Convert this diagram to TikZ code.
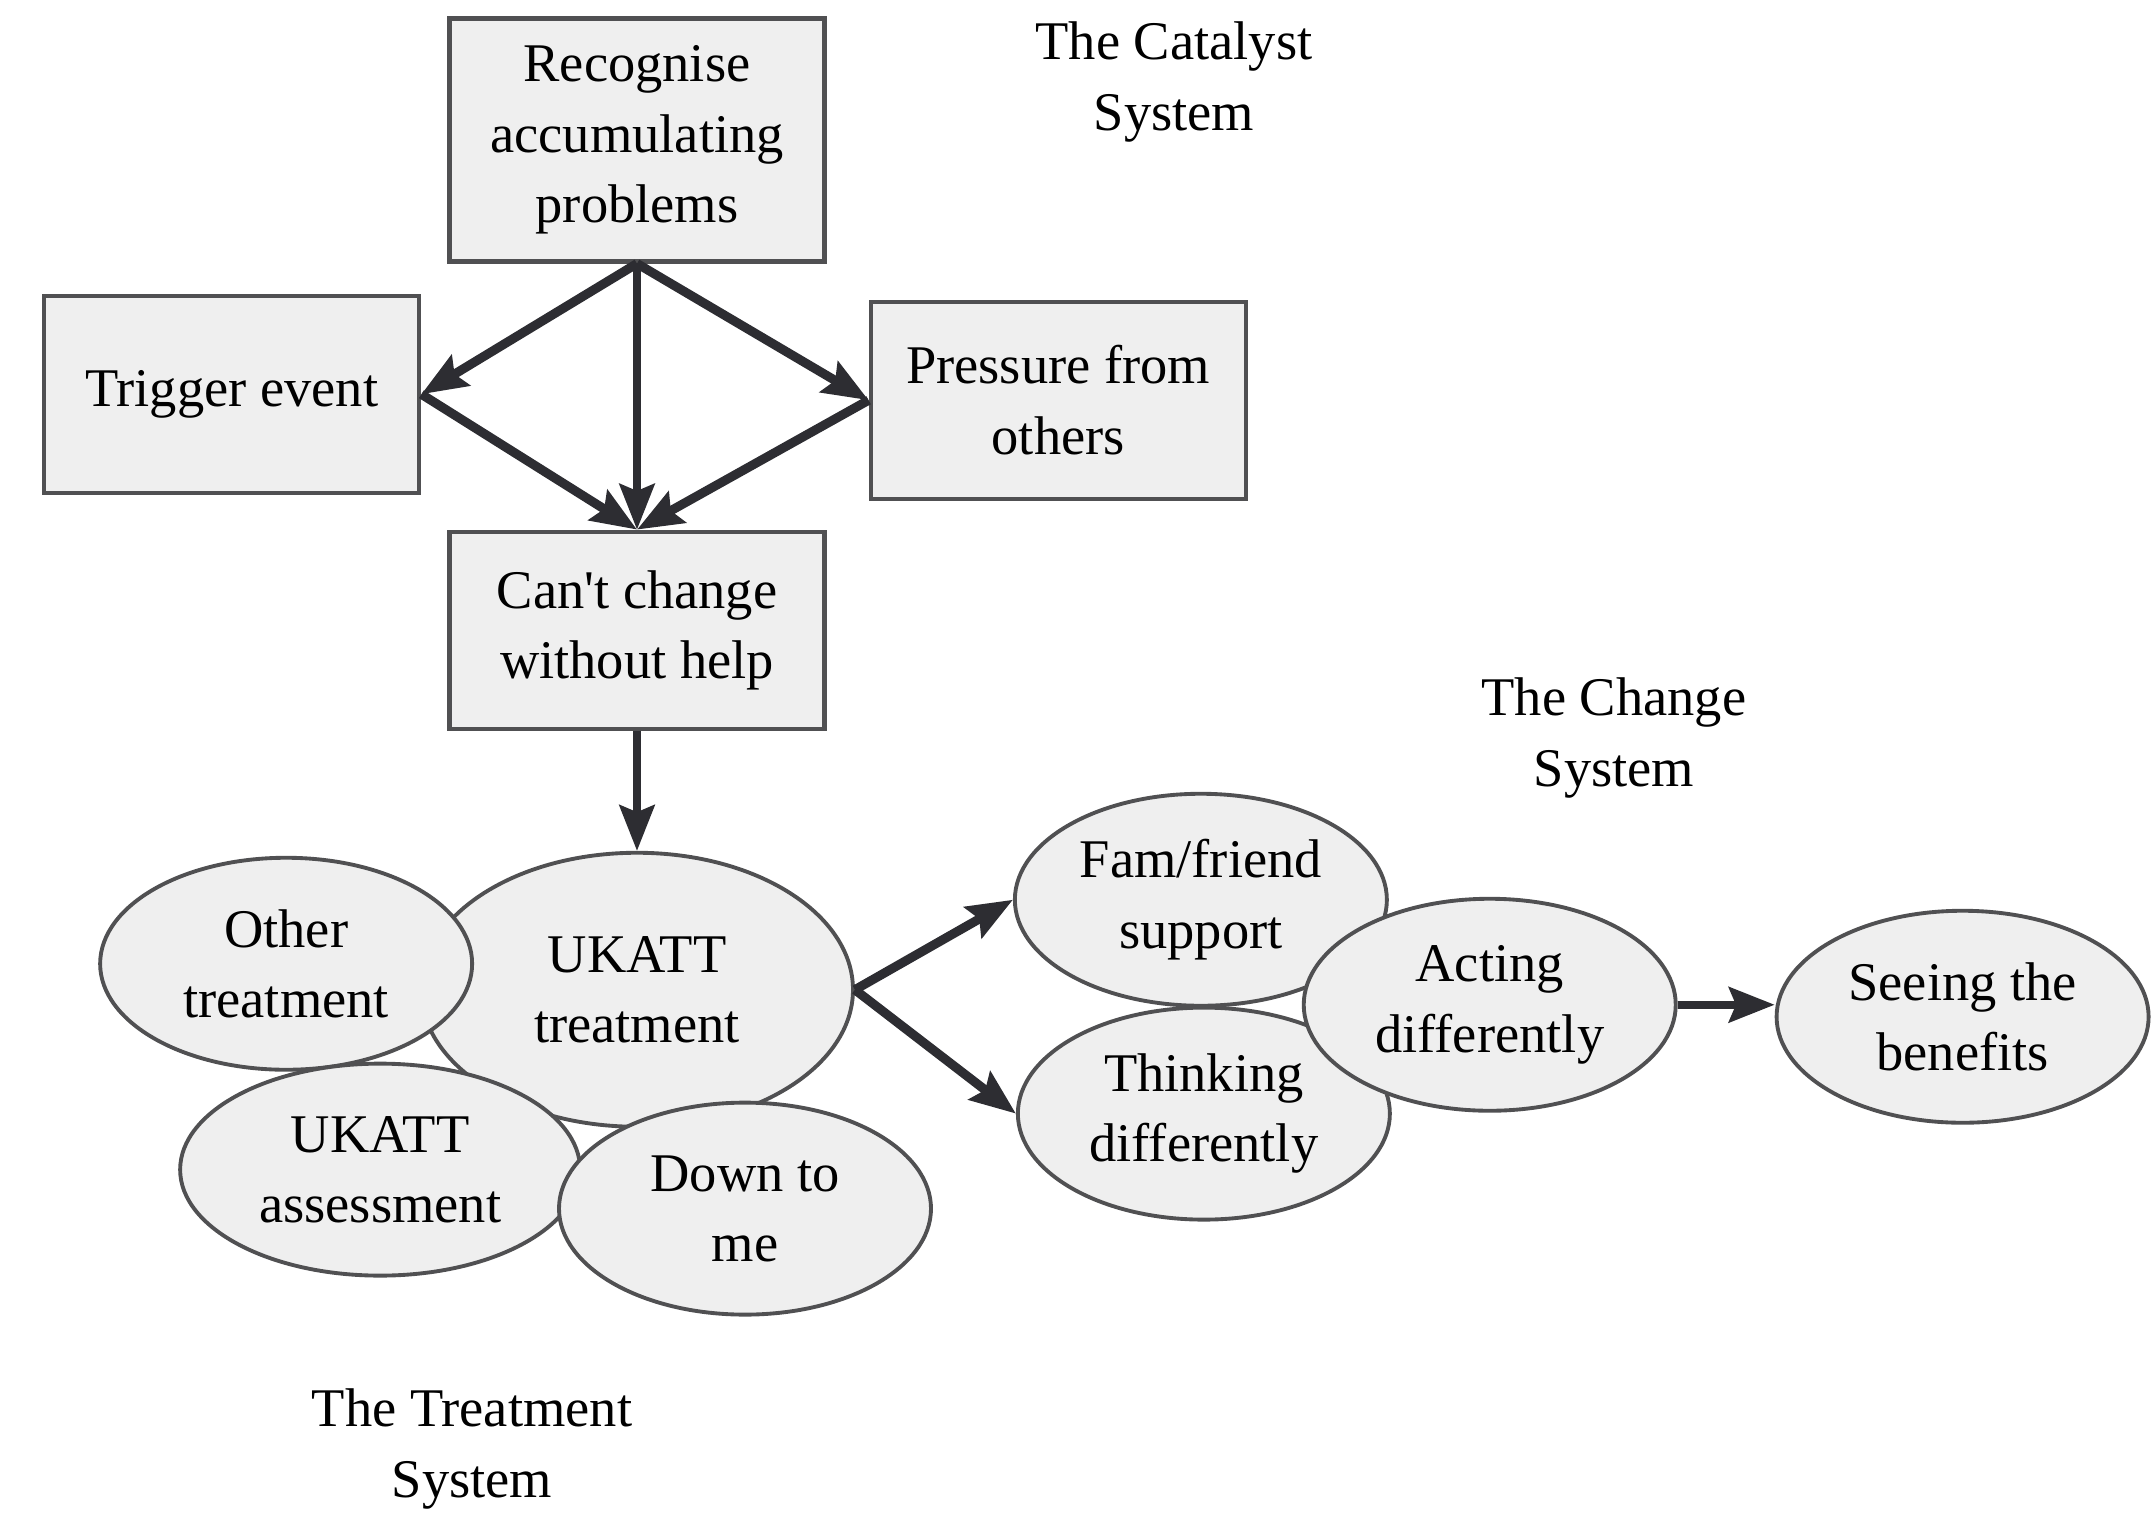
\documentclass[tikz,border=0pt]{standalone}
\usepackage{fontspec}
\setmainfont{Liberation Serif}
\usepackage{xcolor}
\usetikzlibrary{arrows.meta, positioning, shapes.geometric}

\definecolor{boxfill}{RGB}{239,239,239}
\definecolor{edgegray}{RGB}{80,80,82}
\definecolor{arrowdark}{RGB}{45,45,50}

\begin{document}
\begin{tikzpicture}[
    stagebox/.style={rectangle, draw=edgegray, line width=1.2pt, fill=boxfill,
        minimum width=3.75cm, minimum height=1.97cm, align=center,
        font=\fontsize{15.5}{20}\selectfont},
    theme/.style={ellipse, draw=edgegray, line width=1.1pt, fill=boxfill,
        minimum width=3.72cm, minimum height=2.12cm, inner sep=0pt, align=center,
        font=\fontsize{15.5}{20}\selectfont},
    heading/.style={align=center, font=\fontsize{15.5}{20}\selectfont},
    flow/.style={->, draw=arrowdark, line width=2.6pt},
    >={Stealth[length=13pt, width=10pt, inset=2pt]}
]
\useasboundingbox (0,0) rectangle (21.53,-15.13);

% The catalyst system
\node[stagebox, minimum height=2.43cm] (recognise) at (6.37,-1.40) {Recognise\\accumulating\\problems};
\node[stagebox, below left=0.3cm and 0.26cm of recognise.south west] (trigger) {Trigger event};
\node[stagebox, below right=0.36cm and 0.42cm of recognise.south east] (pressure) {Pressure from\\others};
\node[stagebox, below=2.66cm of recognise] (cantchange) {Can\textquotesingle t change\\without help};

% The treatment system
\node[theme, minimum width=4.32cm, minimum height=2.74cm, below=1.2cm of cantchange] (ukatt) {UKATT\\treatment};
\node[theme, left=-0.55cm of ukatt, yshift=0.26cm] (other) {Other\\treatment};
\node[theme, minimum width=4cm, below=-0.1cm of other, xshift=0.94cm] (assessment) {UKATT\\assessment};
\node[theme, below=-0.28cm of ukatt, xshift=1.08cm] (downtome) {Down to\\me};

% The change system
\node[theme, right=1.58cm of ukatt, yshift=0.9cm] (famfriend) {Fam/friend\\support};
\node[theme, below=-0.02cm of famfriend, xshift=0.03cm] (thinking) {Thinking\\differently};
\node[theme, right=-0.87cm of famfriend, yshift=-1.05cm] (acting) {Acting\\differently};
\node[theme, right=0.97cm of acting, yshift=-0.12cm] (seeing) {Seeing the\\benefits};

% Headings
\node[heading] (catalyst) at (11.74,-0.82) {The Catalyst\\System};
\node[heading] (change) at (16.14,-7.38) {The Change\\System};
\node[heading] (treatment) at (4.72,-14.49) {The Treatment\\System};

% Arrows from the accumulating problems
\draw[flow] (recognise.south) -- (trigger.east);
\draw[flow, line width=2.1pt] (recognise.south) -- (cantchange.north);
\draw[flow] (recognise.south) -- (pressure.west);
\draw[flow] (trigger.east) -- (cantchange.north);
\draw[flow] (pressure.west) -- (cantchange.north);

% Arrows into and out of treatment
\draw[flow, line width=2.1pt] (cantchange.south) -- (ukatt.north);
\draw[flow] (ukatt.east) -- (famfriend.west);
\draw[flow] (ukatt.east) -- (thinking.west);
\draw[flow, line width=2.3pt] (acting.east) -- (acting.east -| seeing.west);

\end{tikzpicture}
\end{document}
